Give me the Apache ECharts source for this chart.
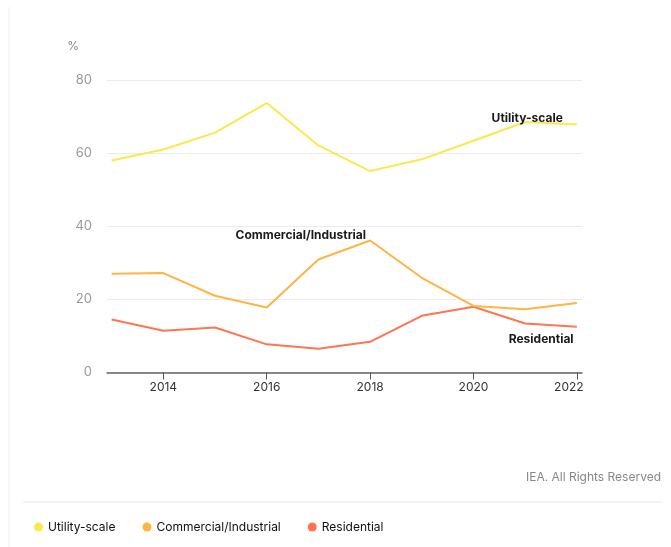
<!DOCTYPE html>
<html>
<head>
<meta charset="utf-8">
<script src="https://cdn.jsdelivr.net/npm/echarts@6/dist/echarts.min.js"></script>
<style>
  html, body { margin: 0; padding: 0; background: #fff; }
  #chart { width: 671px; height: 547px; }
</style>
</head>
<body>
<div id="chart"></div>
<script>
// Years on the horizontal axis
var years = [2013, 2014, 2015, 2016, 2017, 2018, 2019, 2020, 2021, 2022];
var yearTicks = [2014, 2016, 2018, 2020, 2022];

// Share by segment, %
var utilityScale = [58.0, 61.0, 65.6, 73.7, 62.1, 55.1, 58.3, 63.4, 68.5, 67.8];
var commercialIndustrial = [27.0, 27.2, 21.0, 17.8, 30.9, 36.1, 25.9, 18.2, 17.3, 19.0];
var residential = [14.5, 11.4, 12.3, 7.7, 6.5, 8.4, 15.5, 18.0, 13.4, 12.5];

var seriesNames = ['Utility-scale', 'Commercial/Industrial', 'Residential'];
var seriesColors = ['#fbe84b', '#ffb443', '#ff7550'];
var seriesValues = [utilityScale, commercialIndustrial, residential];
// In-chart label anchors, in data units [year, %]
var labelAnchors = [[2021.04, 69.6], [2016.66, 37.5], [2021.31, 9.0]];

var font = 'Inter, "Noto Sans", sans-serif';

function pairs(values) {
  return years.map(function (y, i) { return [y, values[i]]; });
}

var series = seriesNames.map(function (name, k) {
  return {
    name: name,
    type: 'line',
    data: pairs(seriesValues[k]),
    symbol: 'none',
    lineStyle: { color: seriesColors[k], width: 2 },
    itemStyle: { color: seriesColors[k] },
    z: 3 - k,
    markPoint: {
      symbol: 'circle',
      symbolSize: 0,
      silent: true,
      data: [{
        coord: labelAnchors[k],
        label: {
          show: true,
          position: 'inside',
          formatter: name,
          color: '#1a1a1a',
          fontWeight: 'bold',
          fontSize: 12,
          fontFamily: font
        }
      }]
    }
  };
});

var lastTick = yearTicks[yearTicks.length - 1];

var chart = echarts.init(document.getElementById('chart'), null, { renderer: 'canvas' });
chart.setOption({
  animation: false,
  backgroundColor: '#fff',
  grid: { left: 107, right: 89, top: 80, bottom: 174.5 },
  xAxis: {
    type: 'value',
    min: 2012.91,
    max: 2022.1,
    axisLine: { show: true, lineStyle: { color: '#666', width: 1.5 } },
    axisTick: { show: true, length: 7, customValues: yearTicks, lineStyle: { color: '#555', width: 1 } },
    axisLabel: {
      customValues: yearTicks,
      color: '#333',
      fontSize: 12,
      fontFamily: font,
      margin: 9,
      formatter: function (v) {
        // last year label sits flush with the end of the axis
        return v === lastTick ? '{last|' + v + '}' : String(v);
      },
      rich: {
        last: { color: '#333', fontSize: 12, fontFamily: font, padding: [0, 16, 0, 0] }
      }
    },
    splitLine: { show: false }
  },
  yAxis: {
    type: 'value',
    min: 0,
    max: 80,
    interval: 20,
    name: '%',
    nameLocation: 'end',
    nameGap: 28,
    nameTextStyle: { color: '#888', fontSize: 12, fontFamily: font, align: 'right', padding: [0, 28, 0, 0] },
    axisLine: { show: false },
    axisTick: { show: false },
    axisLabel: { color: '#999', fontSize: 13, fontFamily: font, margin: 15 },
    splitLine: { lineStyle: { color: '#ebebeb', width: 1 } }
  },
  legend: {
    left: 29,
    top: 516,
    itemWidth: 9,
    itemHeight: 9,
    itemGap: 27,
    icon: 'circle',
    textStyle: { color: '#111', fontSize: 12, fontFamily: font, padding: [0, 0, 0, 0] },
    data: seriesNames
  },
  graphic: [
    { type: 'line', shape: { x1: 9, y1: 7, x2: 9, y2: 547 }, style: { stroke: '#efefef', lineWidth: 1 }, silent: true },
    { type: 'line', shape: { x1: 23, y1: 502, x2: 662, y2: 502 }, style: { stroke: '#e8e8e8', lineWidth: 1 }, silent: true },
    {
      type: 'text', right: 10, top: 471,
      style: { text: 'IEA. All Rights Reserved', fill: '#888', font: '12px ' + font }
    }
  ],
  series: series
});
</script>
</body>
</html>
